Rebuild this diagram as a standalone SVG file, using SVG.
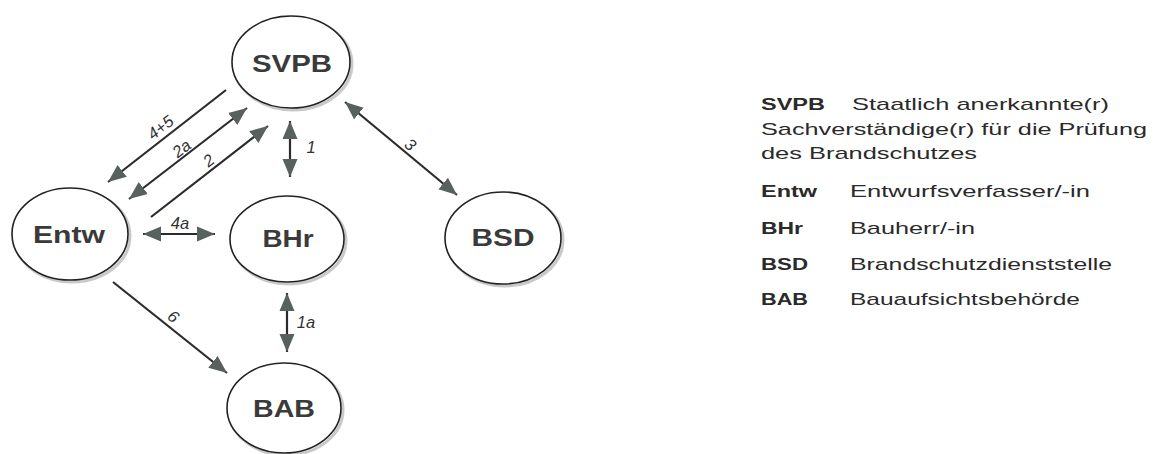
<svg xmlns="http://www.w3.org/2000/svg" width="1155" height="454" viewBox="0 0 1155 454">
<style>
.node ellipse.main{fill:#fff;stroke:#222;stroke-width:1.6}
.node ellipse.shadow{fill:none;stroke:#c9c9c9;stroke-width:3}
.nl{font-family:"Liberation Sans",Arial,sans-serif;font-weight:bold;font-size:23px;fill:#3a3a3a;text-anchor:middle}
.edge{stroke:#2b2b2b;stroke-width:2.2;fill:none}
.el{font-family:"Liberation Sans",Arial,sans-serif;font-style:italic;font-size:16.5px;fill:#333;text-anchor:middle}
.lg{font-family:"Liberation Sans",Arial,sans-serif;font-size:17px;fill:#2a2a2a}
.lb{font-family:"Liberation Sans",Arial,sans-serif;font-size:16px;font-weight:bold;fill:#2a2a2a}
</style>
<defs>
<marker id="ah" markerWidth="19" markerHeight="16" refX="18" refY="8" orient="auto-start-reverse" markerUnits="userSpaceOnUse">
<path d="M0,0.5 L18,8 L0,15.5 Z" fill="#58615e"/>
</marker>
</defs>
<rect width="1155" height="454" fill="#fff"/>
<g id="node-SVPB" class="node">
<ellipse class="shadow" cx="293" cy="64" rx="59" ry="46"/>
<ellipse class="main" cx="291" cy="62" rx="59" ry="46"/>
<text class="nl" x="292" y="72" textLength="80" lengthAdjust="spacingAndGlyphs">SVPB</text>
</g>
<g id="node-Entw" class="node">
<ellipse class="shadow" cx="72" cy="236" rx="58" ry="46"/>
<ellipse class="main" cx="70" cy="234" rx="58" ry="46"/>
<text class="nl" x="69" y="243" textLength="72" lengthAdjust="spacingAndGlyphs">Entw</text>
</g>
<g id="node-BHr" class="node">
<ellipse class="shadow" cx="289" cy="241" rx="57" ry="43"/>
<ellipse class="main" cx="287" cy="239" rx="57" ry="43"/>
<text class="nl" x="288" y="247" textLength="51" lengthAdjust="spacingAndGlyphs">BHr</text>
</g>
<g id="node-BSD" class="node">
<ellipse class="shadow" cx="505" cy="240" rx="58" ry="46"/>
<ellipse class="main" cx="503" cy="238" rx="58" ry="46"/>
<text class="nl" x="503" y="246" textLength="63" lengthAdjust="spacingAndGlyphs">BSD</text>
</g>
<g id="node-BAB" class="node">
<ellipse class="shadow" cx="286" cy="410" rx="57" ry="45"/>
<ellipse class="main" cx="284" cy="408" rx="57" ry="45"/>
<text class="nl" x="284" y="417" textLength="62" lengthAdjust="spacingAndGlyphs">BAB</text>
</g>
<g id="connectors">
<line class="edge" x1="226" y1="90" x2="108" y2="182" marker-end="url(#ah)"/>
<line class="edge" x1="129" y1="199" x2="247" y2="108" marker-start="url(#ah)" marker-end="url(#ah)"/>
<line class="edge" x1="151" y1="217" x2="268" y2="126" marker-end="url(#ah)"/>
<line class="edge" x1="290" y1="121" x2="290" y2="177" marker-start="url(#ah)" marker-end="url(#ah)"/>
<line class="edge" x1="143" y1="234" x2="215" y2="234" marker-start="url(#ah)" marker-end="url(#ah)"/>
<line class="edge" x1="287" y1="293" x2="287" y2="352" marker-start="url(#ah)" marker-end="url(#ah)"/>
<line class="edge" x1="113" y1="282" x2="227" y2="373" marker-end="url(#ah)"/>
<line class="edge" x1="345" y1="102" x2="457" y2="195" marker-start="url(#ah)" marker-end="url(#ah)"/>
<text class="el" transform="translate(161,128) rotate(-38)" y="5">4+5</text>
<text class="el" transform="translate(182,149) rotate(-38)" y="5">2a</text>
<text class="el" transform="translate(209,161) rotate(-38)" y="5">2</text>
<text class="el" x="311" y="153">1</text>
<text class="el" x="180" y="229">4a</text>
<text class="el" x="306" y="328">1a</text>
<text class="el" transform="translate(173,317) rotate(39)" y="5">6</text>
<text class="el" transform="translate(410,145) rotate(40)" y="5">3</text>
</g>
<g id="legend">
<text class="lb" x="761" y="110" textLength="64" lengthAdjust="spacingAndGlyphs">SVPB</text>
<text class="lg" x="852" y="110" textLength="257" lengthAdjust="spacingAndGlyphs">Staatlich anerkannte(r)</text>
<text class="lg" x="761" y="135" textLength="386" lengthAdjust="spacingAndGlyphs">Sachverständige(r) für die Prüfung</text>
<text class="lg" x="761" y="159" textLength="216" lengthAdjust="spacingAndGlyphs">des Brandschutzes</text>
<text class="lb" x="761" y="197" textLength="56" lengthAdjust="spacingAndGlyphs">Entw</text>
<text class="lg" x="850" y="197" textLength="240" lengthAdjust="spacingAndGlyphs">Entwurfsverfasser/-in</text>
<text class="lb" x="761" y="234" textLength="42" lengthAdjust="spacingAndGlyphs">BHr</text>
<text class="lg" x="850" y="234" textLength="125" lengthAdjust="spacingAndGlyphs">Bauherr/-in</text>
<text class="lb" x="761" y="270" textLength="47" lengthAdjust="spacingAndGlyphs">BSD</text>
<text class="lg" x="850" y="270" textLength="262" lengthAdjust="spacingAndGlyphs">Brandschutzdienststelle</text>
<text class="lb" x="761" y="305" textLength="47" lengthAdjust="spacingAndGlyphs">BAB</text>
<text class="lg" x="850" y="305" textLength="230" lengthAdjust="spacingAndGlyphs">Bauaufsichtsbehörde</text>
</g>
</svg>
